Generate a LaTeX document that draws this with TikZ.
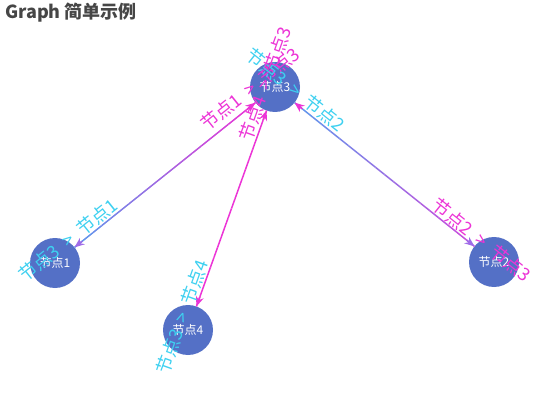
\documentclass[tikz,border=0pt]{standalone}
\usepackage{fontspec}
\setmainfont{Noto Sans CJK SC}
\usepackage{tikz}
\usetikzlibrary{arrows.meta,calc}

\definecolor{nodeblue}{RGB}{84,112,198}
\definecolor{labcyan}{RGB}{62,208,240}
\definecolor{labpink}{RGB}{236,52,214}
\definecolor{edgeblue}{RGB}{95,152,236}
\definecolor{edgeviolet}{RGB}{205,74,220}
\definecolor{edgepurple}{RGB}{160,108,232}
\definecolor{titlegray}{RGB}{70,70,70}

\begin{document}
\begin{tikzpicture}[x=1pt, y=-1pt,
    vertex/.style={circle, fill=nodeblue, minimum size=50pt, inner sep=0pt,
                   text=white, font=\fontsize{12}{14}\selectfont},
    elabel/.style={inner sep=0pt, font=\fontsize{18}{20}\selectfont},
    tip/.style={-{Stealth[length=10pt, width=8pt]}, line width=1.5pt},
  ]
  \useasboundingbox (0,0) rectangle (550,420);
  % Title
  \node[anchor=base west, inner sep=0pt, text=titlegray,
        font=\fontsize{18}{20}\selectfont\bfseries] (title) at (5,19) {Graph 简单示例};
  % Nodes
  \node[vertex] (n1) at (55,263)  {节点1};
  \node[vertex] (n2) at (494,262) {节点2};
  \node[vertex] (n3) at (275,87)  {节点3};
  \node[vertex] (n4) at (188,330) {节点4};
  % Edges, colour runs from left end to right end
  \foreach \s/\t/\ca/\cb/\ta/\tb in {n1/n3/edgeblue/labpink/edgepurple/labpink,
                                     n3/n2/edgeblue/edgeviolet/labpink/edgepurple,
                                     n4/n3/labpink/labpink/labpink/labpink} {
    \coordinate (\s-\t-a) at ($(\s)!25pt!(\t)$);
    \coordinate (\s-\t-b) at ($(\t)!25pt!(\s)$);
    \foreach \k in {0,...,19} {
      \pgfmathtruncatemacro{\p}{100*\k/19}
      \draw[line width=1.5pt, color=\cb!\p!\ca]
        ($(\s-\t-a)!\k/20!(\s-\t-b)$) -- ($(\s-\t-a)!{(\k+1)/20}!(\s-\t-b)$);
    }
    \draw[tip, color=\ta] ($(\s-\t-a)!10pt!(\s-\t-b)$) -- (\s-\t-a);
    \draw[tip, color=\tb] ($(\s-\t-b)!10pt!(\s-\t-a)$) -- (\s-\t-b);
  }
  % Edge labels
  \node[elabel, text=labcyan, rotate=38.7]  (l31) at (68,240)  {节点3\hspace{0.5em}>\hspace{0.5em}节点1};
  \node[elabel, text=labpink, rotate=38.7]  (l13) at (250,89)  {节点1\hspace{0.5em}>\hspace{0.5em}节点3};
  \node[elabel, text=labcyan, rotate=-38.6] (l32) at (296,90)  {节点3\hspace{0.5em}>\hspace{0.5em}节点2};
  \node[elabel, text=labpink, rotate=-38.6] (l23) at (482,240) {节点2\hspace{0.5em}>\hspace{0.5em}节点3};
  \node[elabel, text=labcyan, rotate=70.3]  (l34) at (182,317) {节点3\hspace{0.5em}>\hspace{0.5em}节点4};
  \node[elabel, text=labpink, rotate=70.3]  (l43) at (265,84)  {节点4\hspace{0.5em}>\hspace{0.5em}节点3};
\end{tikzpicture}
\end{document}
